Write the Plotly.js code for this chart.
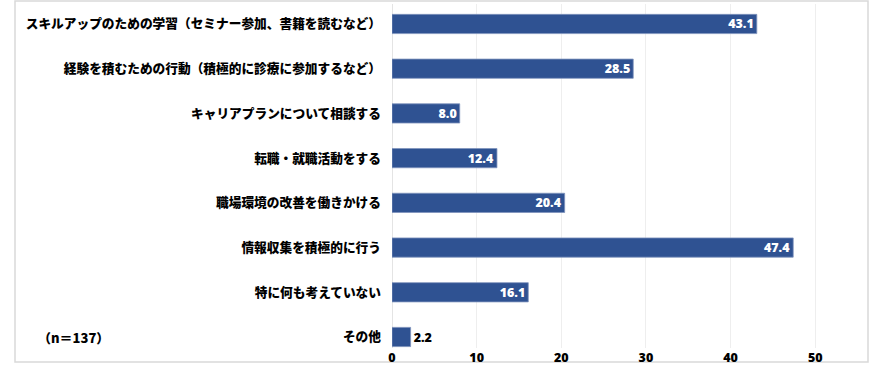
<!DOCTYPE html>
<html>
<head>
<meta charset="utf-8">
<script src="https://cdn.plot.ly/plotly-3.0.1.min.js"></script>
<style>
html,body{margin:0;padding:0;background:#fff;}
#chart{width:885px;height:367px;}
</style>
</head>
<body>
<div id="chart"></div>
<script>
const categories = [
  "スキルアップのための学習（セミナー参加、書籍を読むなど）",
  "経験を積むための行動（積極的に診療に参加するなど）",
  "キャリアプランについて相談する",
  "転職・就職活動をする",
  "職場環境の改善を働きかける",
  "情報収集を積極的に行う",
  "特に何も考えていない",
  "その他"
];
const values = [43.1, 28.5, 8.0, 12.4, 20.4, 47.4, 16.1, 2.2];
const valueLabels = ["43.1", "28.5", "8.0", "12.4", "20.4", "47.4", "16.1", "2.2"];
const xTicks = [0, 10, 20, 30, 40, 50];
const sampleNote = "（n＝137）";

const labelPos = values.map(v => v < 5 ? "outside" : "inside");
const labelColor = values.map(v => v < 5 ? "#000000" : "#ffffff");

const trace = {
  type: "bar",
  orientation: "h",
  y: categories,
  x: values,
  text: valueLabels,
  textposition: labelPos,
  insidetextanchor: "end",
  constraintext: "none",
  cliponaxis: false,
  textfont: {family: "Noto Sans, Open Sans, sans-serif", size: 12.5, color: labelColor, weight: 900},
  marker: {color: "#2F5292", line: {color: "#7f93bd", width: 0.8}},
  width: 0.43,
  hoverinfo: "skip"
};

const L = 392, R = 19, T = 4, B = 19;
const W = 885 - L - R, H = 367 - T - B;
const px = x => (x - L) / W;
const py = y => (367 - B - y) / H;

const layout = {
  width: 885, height: 367,
  margin: {l: L, r: R, t: T, b: B, pad: 0},
  paper_bgcolor: "#ffffff",
  plot_bgcolor: "#ffffff",
  showlegend: false,
  font: {family: "Noto Sans CJK JP, sans-serif", color: "#000000"},
  xaxis: {
    range: [0, 56],
    tickvals: xTicks,
    ticktext: xTicks.map(String),
    showgrid: true,
    gridcolor: "#eeeeee",
    gridwidth: 1,
    zeroline: true,
    zerolinecolor: "#e4e4e4",
    zerolinewidth: 1,
    showline: false,
    ticks: "",
    tickfont: {family: "Noto Sans, Open Sans, sans-serif", size: 12.5, color: "#000000", weight: 900},
    fixedrange: true
  },
  yaxis: {
    type: "category",
    range: [7.246, -0.447],
    showgrid: false,
    zeroline: false,
    showline: false,
    ticks: "",
    ticklabelstandoff: 10,
    tickfont: {family: "Noto Sans CJK JP, sans-serif", size: 12.7, color: "#000000", weight: 900},
    fixedrange: true
  },
  shapes: [{
    type: "rect", xref: "paper", yref: "paper",
    x0: px(15), x1: px(868), y0: py(362), y1: py(1),
    line: {color: "#d9d9d9", width: 1.5},
    fillcolor: "rgba(0,0,0,0)",
    layer: "below"
  }],
  annotations: [{
    xref: "paper", yref: "paper",
    x: px(73), y: py(337),
    xanchor: "center", yanchor: "middle",
    text: sampleNote,
    showarrow: false,
    font: {family: "Noto Sans CJK JP, sans-serif", size: 13, color: "#000000", weight: 900}
  }]
};

Plotly.newPlot("chart", [trace], layout, {staticPlot: true, displayModeBar: false});
</script>
</body>
</html>
